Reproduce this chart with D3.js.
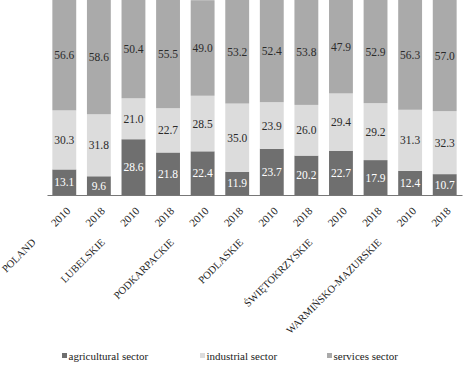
<!DOCTYPE html>
<html>
<head>
<meta charset="utf-8">
<script src="https://cdn.jsdelivr.net/npm/d3@7"></script>
<style>
  body { margin: 0; background: #fff; }
  svg { display: block; }
</style>
</head>
<body>
<svg id="chart" width="474" height="365" font-family="'Liberation Serif', 'Times New Roman', serif"></svg>
<script>
const regions = ["POLAND", "LUBELSKIE", "PODKARPACKIE", "PODLASKIE", "ŚWIĘTOKRZYSKIE", "WARMIŃSKO-MAZURSKIE"];
const years = ["2010", "2018"];
const agricultural = [13.1, 9.6, 28.6, 21.8, 22.4, 11.9, 23.7, 20.2, 22.7, 17.9, 12.4, 10.7];
const industrial   = [30.3, 31.8, 21.0, 22.7, 28.5, 35.0, 23.9, 26.0, 29.4, 29.2, 31.3, 32.3];
const services     = [56.6, 58.6, 50.4, 55.5, 49.0, 53.2, 52.4, 53.8, 47.9, 52.9, 56.3, 57.0];
const seriesNames = ["agricultural sector", "industrial sector", "services sector"];
const colors = ["#6f6f6f", "#dcdcdc", "#aaaaaa"];
const labelColors = ["#ffffff", "#2a2a2a", "#2a2a2a"];
const FONT = "'Liberation Serif', 'Times New Roman', serif";

const rows = [];
regions.forEach((r, i) => years.forEach((y, j) => {
  const k = i * 2 + j;
  rows.push({ key: r + "|" + y, region: r, year: y,
    agricultural: agricultural[k], industrial: industrial[k], services: services[k] });
}));
const keys = ["agricultural", "industrial", "services"];

const svg = d3.select("#chart");
const x = d3.scaleBand().domain(rows.map(d => d.key)).range([47, 462]).paddingInner(0.31).paddingOuter(0.155);
const y = d3.scaleLinear().domain([0, 100]).range([195, 0]);

const stack = d3.stack().keys(keys)(rows);

const g = svg.append("g");
stack.forEach((layer, li) => {
  g.selectAll(null).data(layer).enter().append("rect")
    .attr("x", d => x(d.data.key))
    .attr("width", x.bandwidth())
    .attr("y", d => y(d[1]))
    .attr("height", d => y(d[0]) - y(d[1]))
    .attr("fill", colors[li]);
  g.selectAll(null).data(layer).enter().append("text")
    .attr("x", d => x(d.data.key) + x.bandwidth() / 2)
    .attr("y", d => y((d[0] + d[1]) / 2))
    .attr("dy", "0.35em")
    .attr("text-anchor", "middle")
    .attr("font-family", FONT)
    .attr("font-size", 11.5)
    .attr("fill", labelColors[li])
    .text(d => d.data[keys[li]].toFixed(1));
});

// axis line
const xAxis = d3.axisBottom(x).tickSize(0).tickFormat(k => k.split("|")[1]);
const ax = svg.append("g").attr("transform", "translate(0,195)").call(xAxis)
  .attr("font-family", FONT);
ax.select(".domain").attr("stroke", "#777").attr("stroke-width", 1.2);
ax.selectAll(".tick text")
  .attr("font-family", FONT)
  .attr("font-size", 11)
  .attr("fill", "#222")
  .attr("text-anchor", "end")
  .attr("x", 0).attr("y", 0).attr("dy", "0.35em")
  .attr("transform", "translate(4,14) rotate(-45)");

// region labels
const regionX = r => x(r + "|2010") + x.bandwidth() / 2;
svg.append("g").selectAll("text").data(regions).enter().append("text")
  .attr("text-anchor", "end")
  .attr("font-family", FONT)
  .attr("font-size", 10.5)
  .attr("fill", "#222")
  .attr("transform", r => `translate(${regionX(r) - 28},${243}) rotate(-45)`)
  .text(r => r);

// legend
const legX = [62, 200, 327];
const leg = svg.append("g");
seriesNames.forEach((n, i) => {
  leg.append("rect").attr("x", legX[i]).attr("y", 353).attr("width", 5).attr("height", 5).attr("fill", colors[i]);
  leg.append("text").attr("x", legX[i] + 6.5).attr("y", 356).attr("dy", "0.35em")
    .attr("font-family", FONT)
    .attr("font-size", 11).attr("fill", "#222").text(n);
});
</script>
</body>
</html>
